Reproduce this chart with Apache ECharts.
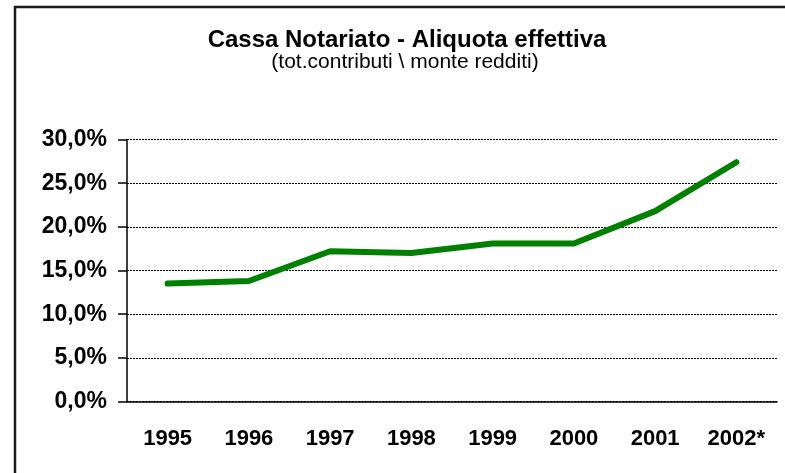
<!DOCTYPE html>
<html>
	<head>
		<meta charset="utf-8">
		<title>Cassa Notariato - Aliquota effettiva</title>
		<script src="https://cdn.jsdelivr.net/npm/echarts@6/dist/echarts.min.js"></script>
		<style>
			html, body { margin: 0; padding: 0; background: #fff; }
			#chart { width: 785px; height: 473px; }
		</style>
	</head>
	<body>
		<div id="chart"></div>
		<script>
			// dati
			var anni = ['1995', '1996', '1997', '1998', '1999', '2000', '2001', '2002*'];
			var aliquota = [13.5, 13.8, 17.2, 17.0, 18.1, 18.1, 21.8, 27.4];
			var yMin = 0, yMax = 30, yPasso = 5;

			var titolo = 'Cassa Notariato - Aliquota effettiva';
			var sottotitolo = '(tot.contributi \\ monte redditi)';

			var font = '"Liberation Sans", Arial, sans-serif';

			var chart = echarts.init(document.getElementById('chart'));
			var option = {
				animation: false,
				backgroundColor: '#fff',
				graphic: [{
						type: 'rect',
						shape: { x: 15, y: 7, width: 900, height: 600 },
						style: { fill: 'none', stroke: '#1a1a1a', lineWidth: 2.5 },
						silent: true
					},
					{
						type: 'text',
						x: 407, y: 40,
						style: {
							text: titolo, align: 'center', verticalAlign: 'middle',
							fontFamily: font, fontSize: 24, fontWeight: 'bold', fill: '#000'
						}
					},
					{
						type: 'text',
						x: 405, y: 62,
						style: {
							text: sottotitolo, align: 'center', verticalAlign: 'middle',
							fontFamily: font, fontSize: 21, fill: '#000'
						}
					}
				],
				grid: {
					left: 127, right: 8, top: 139.5, bottom: 71.5,
					containLabel: false
				},
				xAxis: {
					type: 'category',
					data: anni,
					boundaryGap: true,
					axisLine: { lineStyle: { color: '#000', width: 1.5 } },
					axisTick: { length: 9, lineStyle: { color: '#000', width: 1.5 } },
					axisLabel: {
						margin: 26, color: '#000', fontFamily: font,
						fontSize: 22, fontWeight: 'bold', interval: 0
					},
					splitLine: { show: false }
				},
				yAxis: {
					type: 'value',
					min: yMin, max: yMax, interval: yPasso,
					axisLine: { show: true, lineStyle: { color: '#000', width: 1.5 } },
					axisTick: { show: true, length: 9, lineStyle: { color: '#000', width: 1.5 } },
					axisLabel: {
						margin: 20, color: '#000', fontFamily: font,
						fontSize: 23, fontWeight: 'bold',
						formatter: function(v) {
							return v.toFixed(1).replace('.', ',') + '%';
						}
					},
					splitLine: {
						show: true,
						lineStyle: { color: '#000', width: 1, type: [2, 1] }
					}
				},
				series: [{
					type: 'line',
					data: aliquota,
					symbol: 'none',
					lineStyle: { color: '#008000', width: 6, cap: 'round', join: 'round' }
				}]
			};
			chart.setOption(option);
		</script>
	</body>
</html>
